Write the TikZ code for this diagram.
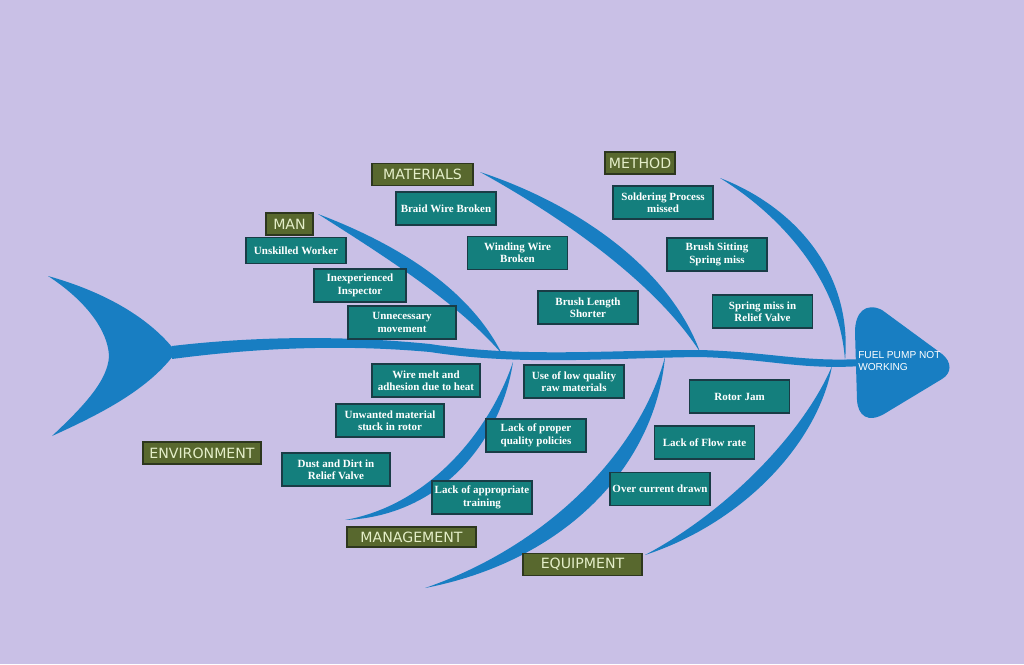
\documentclass[tikz,border=0pt]{standalone}
\usepackage{fontspec}
\newfontfamily\boxfont{Liberation Serif}
\newfontfamily\catfont{DejaVu Sans}
\newfontfamily\headfont{Liberation Sans}
\definecolor{bg}{RGB}{201,192,230}
\definecolor{fish}{RGB}{24,126,194}
\definecolor{tealbox}{RGB}{20,127,125}
\definecolor{tealedge}{RGB}{25,60,70}
\definecolor{olive}{RGB}{88,104,46}
\definecolor{oliveedge}{RGB}{45,55,30}
\definecolor{olivetext}{RGB}{228,238,200}
\tikzset{
  cause/.style={draw=tealedge, line width=0.9pt, fill=tealbox, text=white,
    font=\boxfont\bfseries\fontsize{8.25}{9.3}\selectfont, align=center,
    inner sep=0pt, minimum width=75pt, minimum height=24.75pt},
  cat/.style={draw=oliveedge, line width=0.9pt, fill=olive, text=olivetext,
    font=\catfont\fontsize{10.6}{12}\selectfont, inner sep=0pt, minimum height=16.5pt},
  bone/.style={fill=fish, draw=none},
}
\begin{document}
\begin{tikzpicture}[x=0.75pt,y=-0.75pt]
\fill[bg] (0,0) rectangle (1024,664);
\useasboundingbox (0,0) rectangle (1024,664);

% tail
\fill[fish] (48,276) .. controls (105,292) and (150,318) .. (176,352)
  .. controls (150,388) and (105,412) .. (52,436)
  .. controls (85,405) and (108,380) .. (109,356)
  .. controls (108,330) and (85,300) .. (48,276) -- cycle;

% spine
\fill[fish] (172,346) .. controls (240,338) and (330,334) .. (430,344)
  .. controls (520,358) and (610,350) .. (700,350)
  .. controls (770,352) and (800,362) .. (862,359)
  -- (862,366) .. controls (800,370) and (770,359) .. (700,357)
  .. controls (610,358) and (520,366) .. (430,352)
  .. controls (330,343) and (240,350) .. (172,359) -- cycle;

% head
\fill[fish] (855,332) .. controls (855,312) and (866,302) .. (882,310)
  -- (942,354) .. controls (952,362) and (952,373) .. (942,379)
  -- (884,414) .. controls (868,423) and (858,416) .. (857,400) -- cycle;
\node[anchor=north west, inner sep=0pt, align=left, text=white,
  font=\headfont\fontsize{7.6}{8.8}\selectfont] (effect) at (858,351) {FUEL PUMP NOT\\WORKING};

% upper bones
\coordinate (manTop) at (318,214);   \coordinate (manEnd) at (502,354);
\coordinate (matTop) at (480,172);   \coordinate (matEnd) at (700,352);
\coordinate (metTop) at (720,178);   \coordinate (metEnd) at (845,361);
\fill[fish] (manTop) .. controls (400,245) and (470,290) .. (manEnd)
  .. controls (459,304) and (389,259) .. (manTop) -- cycle;
\fill[fish] (matTop) .. controls (580,205) and (670,270) .. (matEnd)
  .. controls (657,285) and (567,220) .. (matTop) -- cycle;
\fill[fish] (metTop) .. controls (780,215) and (840,280) .. (metEnd)
  .. controls (853,271) and (793,206) .. (metTop) -- cycle;

% lower bones
\coordinate (envTop) at (513,362);   \coordinate (envEnd) at (345,520);
\coordinate (mgtTop) at (665,357);   \coordinate (mgtEnd) at (425,588);
\coordinate (eqpTop) at (832,366);   \coordinate (eqpEnd) at (645,555);
\fill[fish] (envTop) .. controls (490,430) and (430,505) .. (envEnd)
  .. controls (441,516) and (501,441) .. (envTop) -- cycle;
\fill[fish] (mgtTop) .. controls (640,450) and (550,545) .. (mgtEnd)
  .. controls (565,561) and (655,466) .. (mgtTop) -- cycle;
\fill[fish] (eqpTop) .. controls (805,430) and (730,510) .. (eqpEnd)
  .. controls (743,523) and (818,443) .. (eqpTop) -- cycle;

% category labels
\node[cat, minimum width=35.25pt] (man) at (289.5,224) {MAN};
\node[cat, minimum width=75.75pt] (materials) at (422.5,174.5) {MATERIALS};
\node[cat, minimum width=52.5pt] (method) at (640,163) {METHOD};
\node[cat, minimum width=88.5pt] (environment) at (202,453) {ENVIRONMENT};
\node[cat, minimum width=96.75pt, minimum height=15pt] (management) at (411.5,537) {MANAGEMENT};
\node[cat, minimum width=89.25pt] (equipment) at (582.5,564.5) {EQUIPMENT};

% causes: man
\node[cause, minimum height=19.5pt] (c1) at (296,250.5) {Unskilled Worker};
\node[cause, minimum width=69pt] (c2) at (360,285.5) {Inexperienced\\Inspector};
\node[cause, minimum width=81pt] (c3) at (402,322.5) {Unnecessary\\movement};
% materials
\node[cause] (c4) at (446,208.5) {Braid Wire Broken};
\node[cause] (c5) at (517.5,253) {Winding Wire\\Broken};
\node[cause] (c6) at (588,307.5) {Brush Length\\Shorter};
% method
\node[cause] (c7) at (663,202.5) {Soldering Process\\missed};
\node[cause] (c8) at (717,254.5) {Brush Sitting\\Spring miss};
\node[cause] (c9) at (762.5,311.5) {Spring miss in\\Relief Valve};
% environment
\node[cause, minimum width=81pt] (c10) at (426,380.5) {Wire melt and\\adhesion due to heat};
\node[cause, minimum width=81pt] (c11) at (390,420.5) {Unwanted material\\stuck in rotor};
\node[cause, minimum width=81pt] (c12) at (336,469.5) {Dust and Dirt in\\Relief Valve};
% management
\node[cause] (c13) at (574,381.5) {Use of low quality\\raw materials};
\node[cause] (c14) at (536,435.5) {Lack of proper\\quality policies};
\node[cause] (c15) at (482,497.5) {Lack of appropriate\\training};
% equipment
\node[cause] (c16) at (739.5,396.5) {Rotor Jam};
\node[cause] (c17) at (704.5,442.5) {Lack of Flow rate};
\node[cause] (c18) at (660,489) {Over current drawn};
\end{tikzpicture}
\end{document}
